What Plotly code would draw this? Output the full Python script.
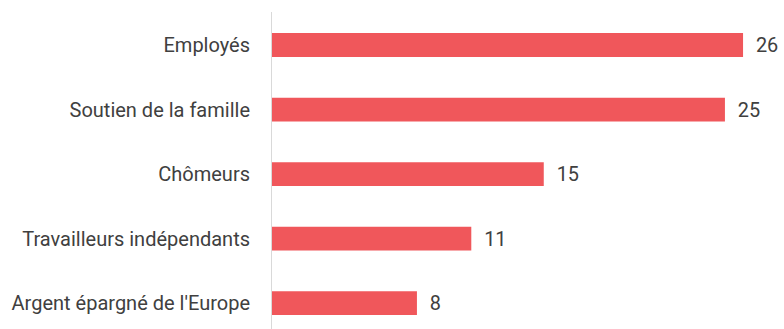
import plotly.graph_objects as go

categories = ["Employés", "Soutien de la famille", "Chômeurs",
              "Travailleurs indépendants", "Argent épargné de l'Europe"]
values = [26, 25, 15, 11, 8]

FONT = "Roboto, Arial, sans-serif"

fig = go.Figure(go.Bar(
    y=categories, x=values, orientation="h",
    marker=dict(color="#F0575B", line=dict(width=0)),
    width=0.37,
    text=values, texttemplate="  %{x}", textposition="outside",
    textfont=dict(family=FONT, size=20, color="#404040"),
    cliponaxis=False,
))

fig.update_layout(
    width=784, height=329,
    margin=dict(l=272, r=0, t=12, b=0),
    paper_bgcolor="white", plot_bgcolor="white",
    showlegend=False,
    font=dict(family=FONT, size=20, color="#404040"),
    xaxis=dict(range=[0, 28.26], visible=False, showgrid=False, zeroline=False),
    yaxis=dict(type="category", range=[4.40, -0.512], showgrid=False, zeroline=False,
               showline=True, linecolor="#D9D9D9", linewidth=1,
               ticks="", ticklabelstandoff=17,
               tickfont=dict(family=FONT, size=20, color="#404040")),
)

fig.write_html("out.html")
